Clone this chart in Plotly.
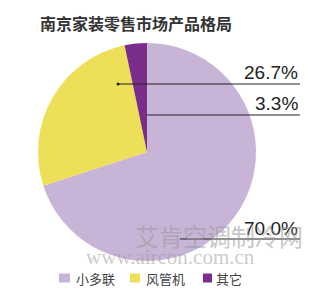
import plotly.graph_objects as go

categories = ["小多联", "风管机", "其它"]
shares = [70.0, 26.7, 3.3]
colors = ["#C8B4D6", "#EEDF58", "#7A2E8B"]
label_texts = ["70.0%", "26.7%", "3.3%"]
title_text = "南京家装零售市场产品格局"

W, H = 327, 294

def px(x):
    return x / W

def py(y):
    return 1 - y / H

fig = go.Figure(go.Pie(
    labels=categories,
    values=shares,
    marker=dict(colors=colors, line=dict(width=0)),
    sort=False,
    direction="clockwise",
    rotation=0,
    textinfo="none",
    hoverinfo="label+percent",
    showlegend=False,
    domain=dict(x=[px(38), px(256)], y=[py(261), py(43)]),
))

annotations = []
shapes = []

# percentage labels with leader lines (label y center, line y, line start x, dot)
label_pos = {
    "26.7%": (73, 84, 118, True),
    "3.3%": (104, 115, 147, False),
    "70.0%": (228, 239, 180, False),
}
for t in label_texts:
    ty, ly, lx, dot = label_pos[t]
    annotations.append(dict(
        text=t, x=px(300), y=py(ty), xref="paper", yref="paper",
        xanchor="right", yanchor="middle", showarrow=False,
        font=dict(family="Liberation Sans, Arial", size=19, color="#222222"),
    ))
    shapes.append(dict(type="line", xref="paper", yref="paper",
                       x0=px(lx), x1=px(300), y0=py(ly), y1=py(ly),
                       line=dict(color="#222222", width=1.2)))
    if dot:
        shapes.append(dict(type="circle", xref="paper", yref="paper",
                           x0=px(lx - 1.5), x1=px(lx + 1.5),
                           y0=py(ly + 1.5), y1=py(ly - 1.5),
                           fillcolor="#222222", line=dict(width=0)))

# watermark
annotations.append(dict(
    text="艾肯空调制冷网", x=px(133), y=py(235), xref="paper", yref="paper",
    xanchor="left", yanchor="middle", showarrow=False, opacity=0.55,
    font=dict(family="Noto Sans CJK SC", size=24, color="#9a9a9a"),
))
annotations.append(dict(
    text="www.aircon.com.cn", x=px(84), y=py(257), xref="paper", yref="paper",
    xanchor="left", yanchor="middle", showarrow=False, opacity=0.5,
    font=dict(family="Liberation Serif, DejaVu Serif", size=21, color="#9a9a9a"),
))

# title
annotations.append(dict(
    text="<b>" + title_text + "</b>", x=px(38), y=py(23), xref="paper", yref="paper",
    xanchor="left", yanchor="middle", showarrow=False,
    font=dict(family="Noto Sans CJK SC", size=16, color="#333333"),
))

# legend built from categories: square symbol + label
legend_sq = [(59, 70), (130, 140), (203, 212)]
legend_tx = [74, 144, 214]
for cat, col, (sx0, sx1), tx in zip(categories, colors, legend_sq, legend_tx):
    shapes.append(dict(type="rect", xref="paper", yref="paper",
                       x0=px(sx0), x1=px(sx1), y0=py(282.5), y1=py(273.5),
                       fillcolor=col, line=dict(width=0)))
    annotations.append(dict(
        text=cat, x=px(tx), y=py(278), xref="paper", yref="paper",
        xanchor="left", yanchor="middle", showarrow=False,
        font=dict(family="Noto Sans CJK SC", size=13, color="#444444"),
    ))

fig.update_layout(
    width=W, height=H,
    margin=dict(l=0, r=0, t=0, b=0),
    paper_bgcolor="white",
    plot_bgcolor="white",
    annotations=annotations,
    shapes=shapes,
)

fig.write_html("out.html")
